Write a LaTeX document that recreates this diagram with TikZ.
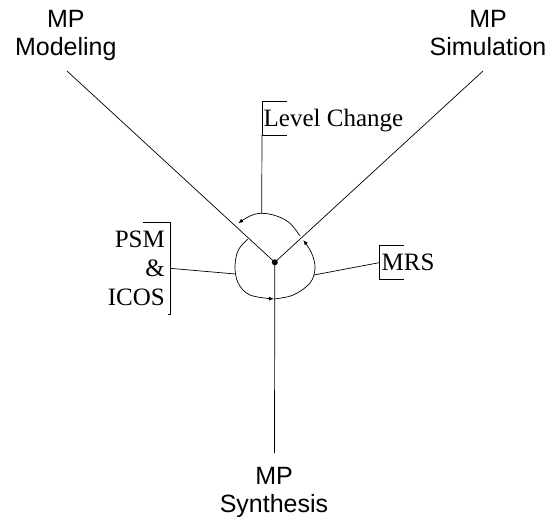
\documentclass[tikz,border=0pt]{standalone}
\usepackage{fontspec}
\setmainfont{Liberation Serif}
\newfontfamily\arialfont{Liberation Sans}
\usetikzlibrary{arrows.meta}
\begin{document}
\begin{tikzpicture}[x=1pt,y=-1pt,
  conn/.style={line width=0.7pt},
  sanslabel/.style={font=\arialfont\fontsize{25}{28}\selectfont, align=center, inner sep=0pt, anchor=north},
  seriflabel/.style={font=\fontsize{25}{29}\selectfont, inner sep=0pt},
  bracketline/.style={line width=0.6pt},
  arcline/.style={line width=0.7pt, -{Latex[length=5pt,width=4pt]}}]
\useasboundingbox (0,0) rectangle (558,517);
% labels
\node[sanslabel] (mod) at (65.8,10.5) {MP\\Modeling};
\node[sanslabel] (sim) at (488,10.5) {MP\\Simulation};
\node[sanslabel] (syn) at (274,467) {MP\\Synthesis};
\node[seriflabel, anchor=base west] (lc) at (263.5,126.7) {Level Change};
\node[seriflabel, anchor=base west] (mrs) at (381.5,270) {MRS};
\node[seriflabel, align=right, anchor=north east] (psm) at (165,231) {PSM\\\&\\ICOS};
% coordinates
\coordinate (modend) at (67,71);
\coordinate (simend) at (483,71);
\coordinate (synend) at (274.5,453);
\coordinate (c) at (274.8,262.3);
\coordinate (arctop) at (261.7,213.3);
\coordinate (lcb) at (262,135);
\coordinate (mrsb) at (379,262.7);
\coordinate (mrsc) at (314,275);
\coordinate (psmb) at (170,268.3);
\coordinate (psmc) at (235.5,274);
% main lines
\draw[conn] (modend) -- (c);
\draw[conn] (simend) -- (c);
\draw[conn] (c) -- (synend);
\fill (c) circle (3);
% cycle arcs
\draw[arcline] plot[smooth, tension=0.6] coordinates {(300,236) (290,223.3) (276.7,216) (261.7,213.3) (250,216) (238.3,223.3)};
\draw[arcline] plot[smooth, tension=0.6] coordinates {(274,299) (293.3,295) (310,283) (315,268.3) (311.7,253.3) (303.3,240)};
\draw[arcline] plot[smooth, tension=0.6] coordinates {(247.7,239.3) (238.3,250) (235,266.7) (238.3,283.3) (250,295) (274,299)};
% brackets and their leads
\draw[bracketline] (287,101) -- (262,101) -- (lcb) -- (287,135);
\draw[conn] (lcb) -- (arctop);
\draw[bracketline] (404,245.7) -- (379,245.7) -- (379,279.3) -- (404,279.3);
\draw[conn] (mrsb) -- (mrsc);
\draw[bracketline] (143.3,222.7) -- (170,222.7) -- (170,314.3) -- (168,314.3);
\draw[conn] (psmb) -- (psmc);
\end{tikzpicture}
\end{document}
